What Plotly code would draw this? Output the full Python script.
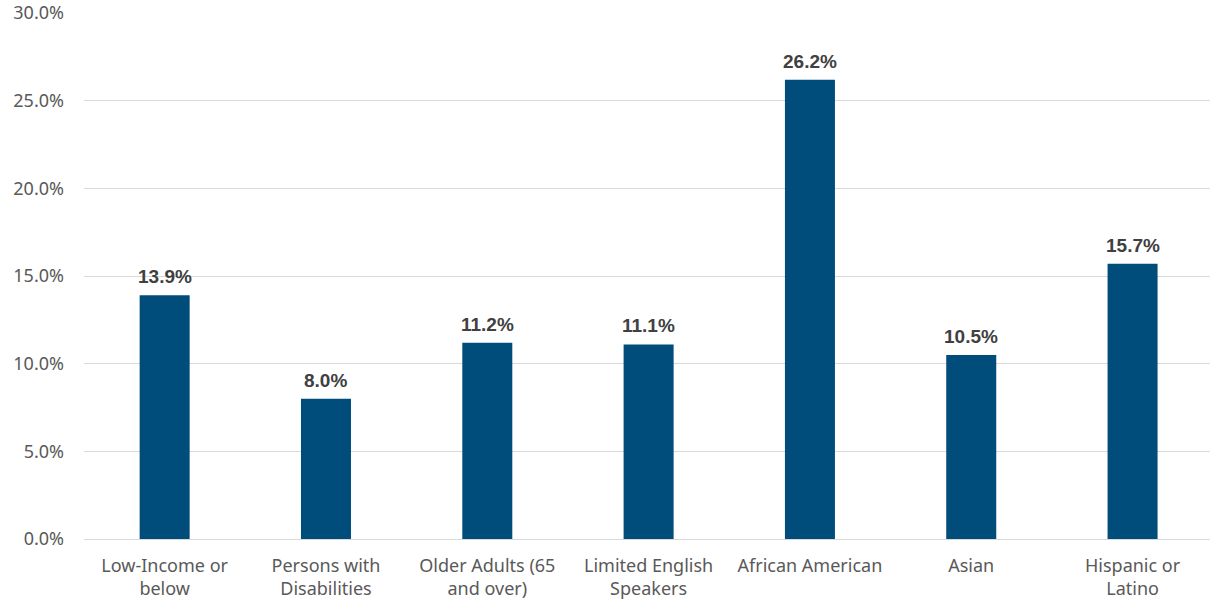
import plotly.graph_objects as go

categories = ["Low-Income or<br>below", "Persons with<br>Disabilities", "Older Adults (65<br>and over)",
              "Limited English<br>Speakers", "African American", "Asian", "Hispanic or<br>Latino"]
values = [13.9, 8.0, 11.2, 11.1, 26.2, 10.5, 15.7]
y_ticks = [0, 5, 10, 15, 20, 25, 30]
y_tick_labels = [f"{v:.1f}%" for v in y_ticks]

FONT = "Noto Sans"
fig = go.Figure()
fig.add_trace(go.Bar(x=list(range(len(categories))), y=values, marker=dict(color="#004c7a", line=dict(width=0)),
                     hoverinfo="skip"))
for i, v in enumerate(values):
    fig.add_annotation(x=i, y=v, text=f"<b>{v:.1f}%</b>", showarrow=False, yanchor="bottom", yshift=6,
                       font=dict(family="Liberation Sans", size=19, color="#404040"))

fig.update_layout(
    width=1210, height=604, margin=dict(l=84, r=0, t=13, b=65),
    plot_bgcolor="white", paper_bgcolor="white", showlegend=False, bargap=0.69,
    font=dict(family=FONT, size=18, color="#595959"),
)
fig.update_xaxes(tickvals=list(range(len(categories))), ticktext=categories, range=[-0.5, 6.48],
                 showgrid=False, showline=False, zeroline=False, ticks="", ticklabelstandoff=14,
                 tickfont=dict(family=FONT, size=18, color="#595959"))
fig.update_yaxes(range=[0, 30], tickvals=y_ticks, ticktext=y_tick_labels, showgrid=True,
                 gridcolor="#d9d9d9", gridwidth=1, zeroline=True, zerolinecolor="#d9d9d9", zerolinewidth=1,
                 showline=False, ticks="", ticklabelstandoff=19,
                 tickfont=dict(family=FONT, size=18, color="#595959"))
fig.write_html("out.html")
